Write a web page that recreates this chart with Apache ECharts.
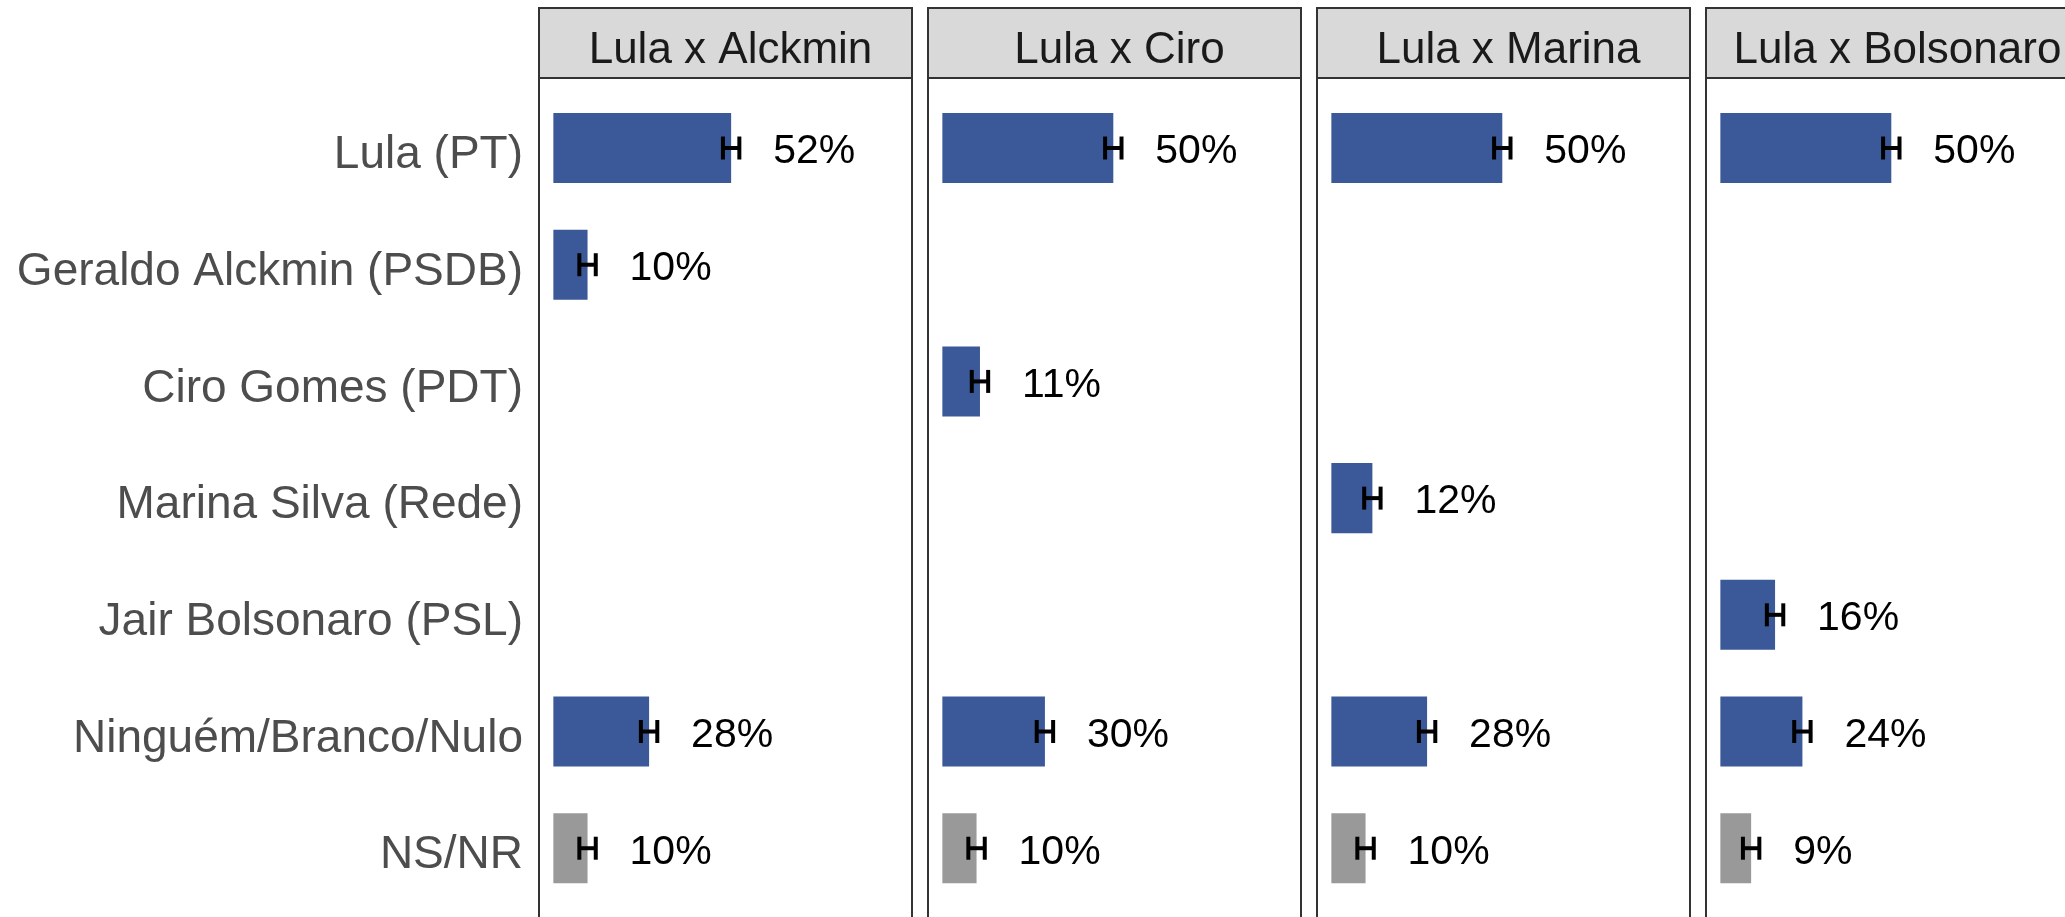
<!DOCTYPE html>
<html>
<head>
<meta charset="utf-8">
<script src="https://cdn.jsdelivr.net/npm/echarts@6/dist/echarts.min.js"></script>
<style>
html,body{margin:0;padding:0;background:#fff;overflow:hidden;}
#chart{width:2065px;height:917px;}
</style>
</head>
<body>
<div id="chart"></div>
<script>
// ---- data ----
const categories = ['Lula (PT)', 'Geraldo Alckmin (PSDB)', 'Ciro Gomes (PDT)', 'Marina Silva (Rede)', 'Jair Bolsonaro (PSL)', 'Ninguém/Branco/Nulo', 'NS/NR'];
const panels = ['Lula x Alckmin', 'Lula x Ciro', 'Lula x Marina', 'Lula x Bolsonaro'];
const lulaXAlckmin = [52, 10, null, null, null, 28, 10];
const lulaXCiro = [50, null, 11, null, null, 30, 10];
const lulaXMarina = [50, null, null, 12, null, 28, 10];
const lulaXBolsonaro = [50, null, null, null, 16, 24, 9];
const marginOfError = 2.4;
const greyCategory = 'NS/NR';

// ---- layout / style ----
const panelValues = [lulaXAlckmin, lulaXCiro, lulaXMarina, lulaXBolsonaro];
const FONT = "'Liberation Sans', Arial, sans-serif";
const BLUE = '#3b5998';
const GREY = '#999999';
const panelLeft0 = 539, panelW = 373, panelStep = 389;
const stripTop = 8, stripH = 70;
const frameTop = 78;
const nCat = categories.length;
const band = 116.7;
const expand = 0.6;
const frameH = band * (nCat - 1 + 2 * expand) + 8;
const dataTop = frameTop + (expand - 0.5) * band;
const dataH = band * nCat;

const grid = [], xAxis = [], yAxis = [], series = [], title = [];

panels.forEach((p, i) => {
  const left = panelLeft0 + i * panelStep;
  // data grid
  const gi = grid.length;
  grid.push({left: left, width: panelW, top: dataTop, height: dataH, containLabel: false, outerBoundsMode: 'none'});
  xAxis.push({gridIndex: gi, type: 'value', min: -4.2, max: 104.9, show: false, splitLine: {show: false}});
  yAxis.push({
    gridIndex: gi, type: 'category', data: categories, inverse: true,
    axisLine: {show: false}, axisTick: {show: false}, splitLine: {show: false},
    axisLabel: {
      show: i === 0, margin: 16,
      formatter: (v) => '{c|' + v + '}',
      rich: {c: {fontFamily: FONT, fontSize: 46, color: '#4d4d4d', padding: [15, 0, 0, 0]}}
    }
  });
  const vals = panelValues[i];
  series.push({
    type: 'bar', xAxisIndex: gi, yAxisIndex: gi, barWidth: '60%',
    data: vals.map((v, k) => v == null ? null : {
      value: v,
      itemStyle: {color: categories[k] === greyCategory ? GREY : BLUE}
    }),
    label: {
      show: true, position: 'right', distance: 42, offset: [0, 4],
      formatter: (d) => d.value + '%',
      fontFamily: FONT, fontSize: 41, color: '#000'
    },
    silent: true, animation: false, z: 2
  });
  series.push({
    type: 'custom', xAxisIndex: gi, yAxisIndex: gi,
    data: vals.map((v, k) => v == null ? null : [v, k]).filter(d => d),
    renderItem: (params, api) => {
      const v = api.value(0), k = api.value(1);
      const lo = api.coord([v - marginOfError, k]);
      const hi = api.coord([v + marginOfError, k]);
      const capH = 23;
      const st = {stroke: '#000', lineWidth: 4};
      return {type: 'group', children: [
        {type: 'line', shape: {x1: lo[0], y1: lo[1], x2: hi[0], y2: hi[1]}, style: st},
        {type: 'line', shape: {x1: lo[0], y1: lo[1] - capH / 2, x2: lo[0], y2: lo[1] + capH / 2}, style: st},
        {type: 'line', shape: {x1: hi[0], y1: hi[1] - capH / 2, x2: hi[0], y2: hi[1] + capH / 2}, style: st}
      ]};
    },
    silent: true, animation: false, z: 3
  });
  // frame grid
  const fi = grid.length;
  grid.push({left: left, width: panelW, top: frameTop, height: frameH, show: true, backgroundColor: 'transparent', borderColor: '#333', borderWidth: 2, z: 5, outerBoundsMode: 'none'});
  xAxis.push({gridIndex: fi, type: 'value', show: false});
  yAxis.push({gridIndex: fi, type: 'value', show: false});
  // strip grid
  const si = grid.length;
  grid.push({left: left, width: panelW, top: stripTop, height: stripH, show: true, backgroundColor: '#d9d9d9', borderColor: '#333', borderWidth: 2, z: 5, outerBoundsMode: 'none'});
  xAxis.push({gridIndex: si, type: 'value', show: false});
  yAxis.push({gridIndex: si, type: 'value', show: false});
  title.push({
    text: p, left: left + panelW / 2, top: stripTop + stripH / 2 + 3,
    textAlign: 'center', textVerticalAlign: 'middle',
    textStyle: {fontFamily: FONT, fontSize: 44, fontWeight: 'normal', color: '#1a1a1a'}, z: 10
  });
});

const chart = echarts.init(document.getElementById('chart'), null, {renderer: 'canvas'});
chart.setOption({animation: false, backgroundColor: '#fff', title, grid, xAxis, yAxis, series});
</script>
</body>
</html>
